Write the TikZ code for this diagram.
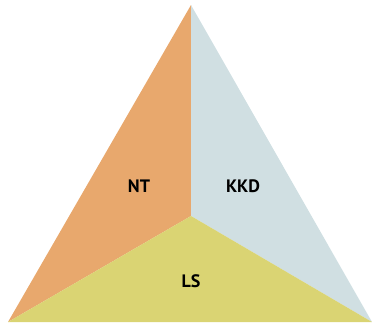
\documentclass[tikz,border=0pt]{standalone}
\usepackage{fontspec}
\setmainfont{PT Sans}
\usepackage{tikz}
\usepackage{xcolor}
\definecolor{ntfill}{HTML}{E8A86D}
\definecolor{kkdfill}{HTML}{D0DFE2}
\definecolor{lsfill}{HTML}{DAD473}
\begin{document}
\begin{tikzpicture}[x=1pt, y=-1pt, font=\bfseries\fontsize{18}{20}\selectfont]
  \useasboundingbox (0,0) rectangle (372,322);
  \coordinate (top) at (191,5);
  \coordinate (left) at (8,322);
  \coordinate (right) at (372,322);
  \coordinate (mid) at (191,216);
  % three parts
  \fill[ntfill] (top) -- (mid) -- (left) -- cycle;
  \fill[kkdfill] (top) -- (right) -- (mid) -- cycle;
  \fill[lsfill] (mid) -- (right) -- (left) -- cycle;
  % labels
  \node (nt) at (139,186) {NT};
  \node (kkd) at (243,186) {KKD};
  \node (ls) at (191,281) {LS};
\end{tikzpicture}
\end{document}
